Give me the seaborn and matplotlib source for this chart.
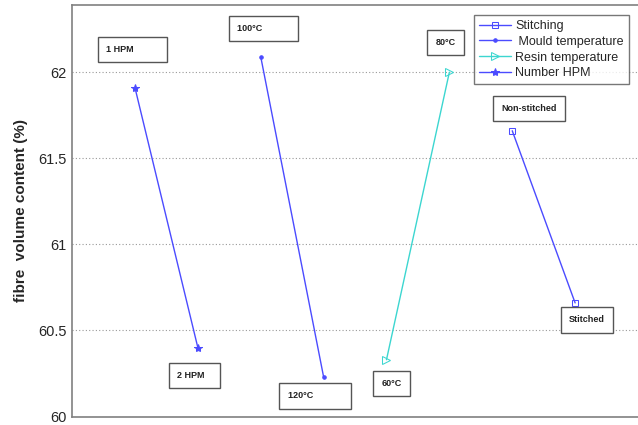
import matplotlib
matplotlib.use("Agg")
import matplotlib.pyplot as plt
import seaborn as sns
import pandas as pd

# ---- data ----
series_names = ["Stitching", "Mould temperature", "Resin temperature", "Number HPM"]
hpm_x = [1, 2]
hpm_y = [61.91, 60.40]
hpm_labels = ["1 HPM", "2 HPM"]
mould_x = [3, 4]
mould_y = [62.09, 60.23]
mould_labels = ["100°C", "120°C"]
resin_x = [5, 6]
resin_y = [60.33, 62.00]
resin_labels = ["60°C", "80°C"]
stitch_x = [7, 8]
stitch_y = [61.66, 60.66]
stitch_labels = ["Non-stitched", "Stitched"]
y_ticks = [60, 60.5, 61, 61.5, 62]
y_tick_labels = ["60", "60.5", "61", "61.5", "62"]

sns.set_style("white")
plt.rcParams["font.family"] = ["Liberation Sans", "DejaVu Sans"]

fig = plt.figure(figsize=(6.38, 4.25), dpi=100)
ax = fig.add_axes([0.113, 0.02, 0.887, 0.968])

blue = "#4b4bff"
cyan = "#3cd6d0"

specs = [
    ("Number HPM", hpm_x, hpm_y, blue, "*", blue, 6),
    ("Mould temperature", mould_x, mould_y, blue, ".", blue, 5),
    ("Resin temperature", resin_x, resin_y, cyan, ">", "none", 6),
    ("Stitching", stitch_x, stitch_y, blue, "s", "none", 5),
]
for name, xs, ys, col, mk, mfc, ms in specs:
    df = pd.DataFrame({"x": xs, "y": ys})
    sns.lineplot(data=df, x="x", y="y", ax=ax, color=col, marker=mk,
                 markersize=ms, markerfacecolor=mfc, markeredgecolor=col,
                 linewidth=1.0, label=name)

ax.set_xlim(0, 9)
ax.set_ylim(60, 62.39)
ax.set_xticks([])
ax.set_yticks(y_ticks)
ax.set_yticklabels(y_tick_labels, fontsize=10.5)
ax.tick_params(axis="y", direction="in", length=3, pad=4, color="#777777")
ax.yaxis.grid(True, linestyle=(0, (1, 2)), color="#999999", linewidth=0.8)
ax.set_xlabel("")
ax.set_ylabel("fibre  volume content (%)", fontsize=11, fontweight="bold", labelpad=7)

for side in ["left", "top", "bottom"]:
    ax.spines[side].set_color("#808080")
    ax.spines[side].set_linewidth(1.2)
ax.spines["right"].set_visible(False)

# legend in requested order
handles, labels = ax.get_legend_handles_labels()
order = [labels.index(n) for n in series_names]
leg_labels = [labels[i] for i in order]
leg_labels[1] = " " + leg_labels[1]
leg = ax.legend([handles[i] for i in order], leg_labels,
                loc="upper right", bbox_to_anchor=(0.99, 0.985), fontsize=9,
                frameon=True, fancybox=False, borderpad=0.4, labelspacing=0.3,
                handlelength=2.6, handletextpad=0.3, borderaxespad=0.3)
leg.get_frame().set_edgecolor("#555555")
leg.get_frame().set_linewidth(1.0)

# point annotations (offsets in pixels relative to each point)
ann = [
    (hpm_x[0], hpm_y[0], hpm_labels[0] + "          ", (-29, 38)),
    (hpm_x[1], hpm_y[1], hpm_labels[1] + "   ", (-21, -28)),
    (mould_x[0], mould_y[0], mould_labels[0] + "           ", (-24, 28)),
    (mould_x[1], mould_y[1], mould_labels[1] + "            ", (-36, -19)),
    (resin_x[0], resin_y[0], resin_labels[0], (-5, -24)),
    (resin_x[1], resin_y[1], resin_labels[1], (-14, 30)),
    (stitch_x[0], stitch_y[0], stitch_labels[0], (-11, 22)),
    (stitch_x[1], stitch_y[1], stitch_labels[1], (-6, -17)),
]
for x, y, txt, off in ann:
    ax.annotate(txt, xy=(x, y), xytext=off, textcoords="offset pixels",
                ha="left", va="center", fontsize=6.5, fontweight="bold",
                color="#222222",
                bbox=dict(boxstyle="square,pad=0.9", facecolor="white",
                          edgecolor="#555555", linewidth=1.0))

fig.savefig("out.png", dpi=100)
